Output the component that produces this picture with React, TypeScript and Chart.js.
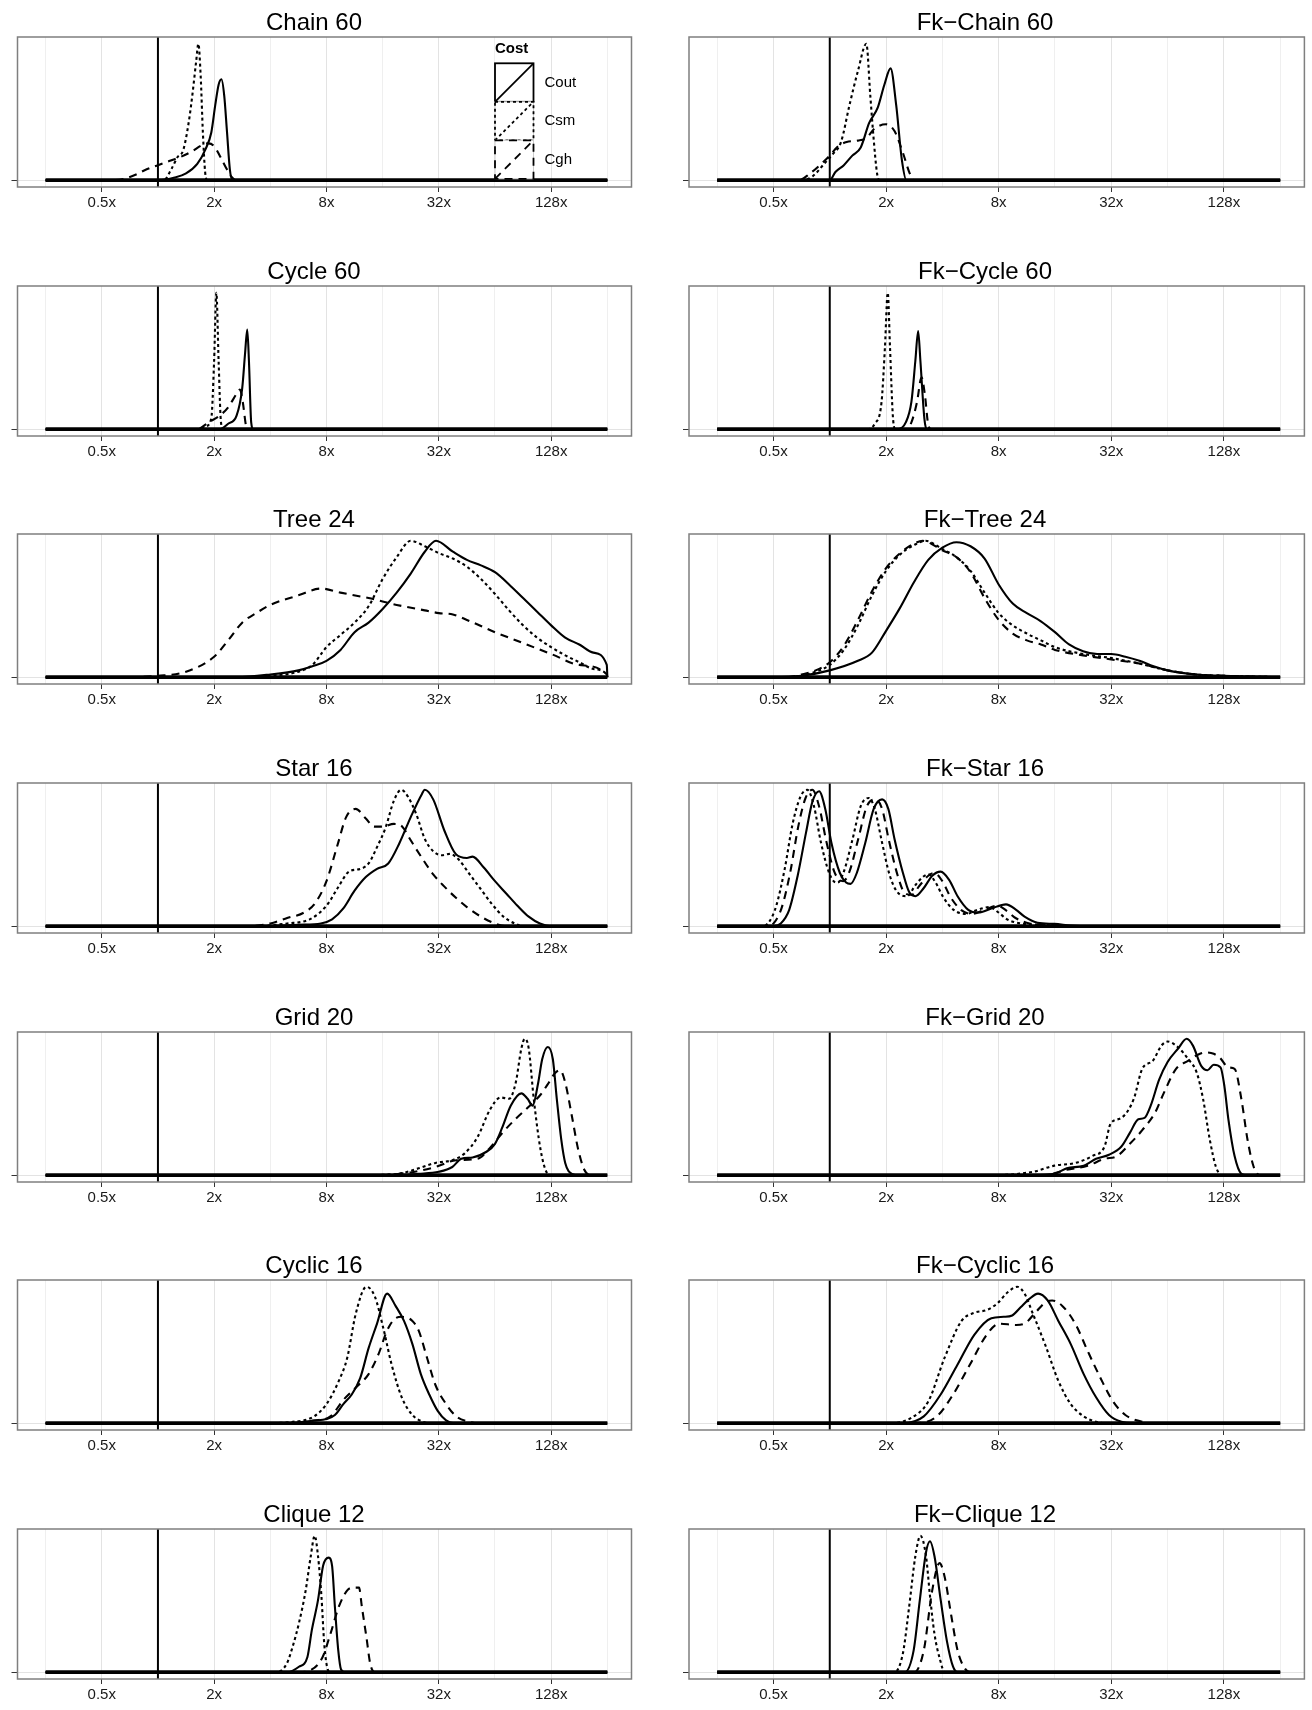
import React, { useEffect, useRef } from 'react';
import { Chart, registerables } from 'chart.js';

Chart.register(...registerables);

type Pt = [number, number];

// ---------- data (x = log2 of cost ratio, y = density scaled to the panel's tallest peak) ----------
const seriesNames = ['Cout', 'Csm', 'Cgh'];
const legendTitle = 'Cost';
const xTickRatios = [0.5, 2, 8, 32, 128];
const xTickLabels = ['0.5x', '2x', '8x', '32x', '128x'];
const gridRatios = [0.25, 0.5, 1, 2, 4, 8, 16, 32, 64, 128, 256];
const densityRange = [-2, 8];
const referenceRatio = 1;

const panelTitles = [
  'Chain 60', 'Fk\u2212Chain 60',
  'Cycle 60', 'Fk\u2212Cycle 60',
  'Tree 24', 'Fk\u2212Tree 24',
  'Star 16', 'Fk\u2212Star 16',
  'Grid 20', 'Fk\u2212Grid 20',
  'Cyclic 16', 'Fk\u2212Cyclic 16',
  'Clique 12', 'Fk\u2212Clique 12',
];

const chain60Cout: Pt[] = [[-2,0],[0,0],[0.3,0.02],[0.5,0.05],[0.7,0.12],[0.85,0.23],[0.95,0.35],[1.02,0.55],[1.08,0.7],[1.13,0.74],[1.18,0.62],[1.23,0.35],[1.28,0.08],[1.33,0],[8,0]];
const chain60Csm: Pt[] = [[-2,0],[0.1,0],[0.25,0.09],[0.35,0.17],[0.45,0.22],[0.55,0.43],[0.62,0.65],[0.68,0.87],[0.72,1],[0.76,0.77],[0.8,0.35],[0.84,0.06],[0.88,0],[8,0]];
const chain60Cgh: Pt[] = [[-2,0],[-0.8,0],[-0.6,0.01],[-0.4,0.04],[-0.2,0.08],[0,0.11],[0.2,0.14],[0.4,0.17],[0.6,0.21],[0.8,0.26],[0.9,0.27],[1,0.25],[1.1,0.18],[1.2,0.1],[1.3,0.03],[1.4,0],[8,0]];

const fkChain60Cout: Pt[] = [[-2,0],[0,0],[0.1,0.06],[0.25,0.11],[0.4,0.18],[0.55,0.24],[0.7,0.42],[0.85,0.53],[0.97,0.7],[1.08,0.82],[1.18,0.55],[1.28,0.15],[1.36,0],[8,0]];
const fkChain60Csm: Pt[] = [[-2,0],[-0.5,0],[-0.3,0.03],[-0.1,0.12],[0.05,0.19],[0.2,0.28],[0.35,0.55],[0.5,0.8],[0.65,1],[0.72,0.62],[0.78,0.3],[0.84,0.05],[0.88,0],[8,0]];
const fkChain60Cgh: Pt[] = [[-2,0],[-0.55,0],[-0.35,0.05],[-0.15,0.12],[0,0.18],[0.15,0.25],[0.3,0.28],[0.5,0.29],[0.65,0.31],[0.8,0.38],[1,0.41],[1.15,0.36],[1.3,0.2],[1.42,0.05],[1.5,0],[8,0]];

const cycle60Cout: Pt[] = [[-2,0],[1.1,0],[1.25,0.04],[1.4,0.1],[1.5,0.3],[1.55,0.55],[1.59,0.73],[1.62,0.5],[1.66,0.05],[1.7,0],[8,0]];
const cycle60Csm: Pt[] = [[-2,0],[0.75,0],[0.85,0.02],[0.95,0.08],[1,0.5],[1.04,1],[1.08,0.5],[1.12,0.06],[1.16,0],[8,0]];
const cycle60Cgh: Pt[] = [[-2,0],[0.7,0],[0.9,0.05],[1.1,0.1],[1.25,0.16],[1.4,0.26],[1.46,0.29],[1.51,0.2],[1.57,0.02],[1.6,0],[8,0]];

const fkCycle60Cout: Pt[] = [[-2,0],[1.2,0],[1.35,0.05],[1.45,0.2],[1.52,0.5],[1.57,0.72],[1.61,0.5],[1.68,0.08],[1.72,0],[8,0]];
const fkCycle60Csm: Pt[] = [[-2,0],[0.65,0],[0.8,0.04],[0.92,0.2],[0.98,0.6],[1.03,1],[1.07,0.6],[1.12,0.1],[1.16,0],[8,0]];
const fkCycle60Cgh: Pt[] = [[-2,0],[1.35,0],[1.45,0.05],[1.55,0.2],[1.63,0.38],[1.69,0.25],[1.75,0.03],[1.8,0],[8,0]];

const tree24Cout: Pt[] = [[-2,0],[1.4,0],[2,0.02],[2.5,0.05],[2.75,0.08],[3,0.12],[3.25,0.2],[3.5,0.33],[3.75,0.4],[4,0.5],[4.25,0.62],[4.5,0.76],[4.75,0.92],[4.95,1],[5.25,0.92],[5.5,0.86],[5.75,0.82],[6,0.77],[6.25,0.68],[6.5,0.58],[6.75,0.48],[7,0.38],[7.25,0.29],[7.5,0.24],[7.75,0.18],[7.99,0.09],[8,0]];
const tree24Csm: Pt[] = [[-2,0],[1.5,0],[2,0.01],[2.5,0.04],[2.75,0.09],[3,0.22],[3.25,0.31],[3.5,0.4],[3.75,0.52],[4,0.72],[4.25,0.88],[4.5,1],[4.75,0.96],[5,0.91],[5.25,0.87],[5.5,0.81],[5.75,0.72],[6,0.61],[6.25,0.49],[6.5,0.38],[6.75,0.29],[7,0.22],[7.25,0.16],[7.5,0.11],[7.75,0.06],[7.99,0.02],[8,0]];
const tree24Cgh: Pt[] = [[-2,0],[-0.5,0],[0,0.01],[0.5,0.04],[1,0.15],[1.25,0.27],[1.5,0.4],[1.75,0.47],[2,0.53],[2.5,0.6],[2.9,0.65],[3.25,0.62],[3.75,0.58],[4.25,0.53],[4.75,0.49],[5,0.47],[5.25,0.46],[5.5,0.42],[6,0.33],[6.5,0.25],[7,0.17],[7.5,0.09],[7.99,0.02],[8,0]];

const fkTree24Cout: Pt[] = [[-2,0],[-1,0],[-0.5,0.01],[0,0.05],[0.5,0.12],[0.75,0.18],[1,0.34],[1.25,0.51],[1.5,0.7],[1.75,0.86],[2,0.95],[2.25,0.99],[2.5,0.96],[2.75,0.87],[3,0.68],[3.25,0.54],[3.5,0.47],[3.75,0.41],[4,0.33],[4.25,0.24],[4.5,0.19],[4.75,0.17],[5,0.17],[5.25,0.15],[5.5,0.12],[5.75,0.08],[6,0.05],[6.5,0.02],[7,0.01],[8,0]];
const fkTree24Csm: Pt[] = [[-2,0],[-0.75,0],[-0.5,0.01],[-0.25,0.04],[0,0.09],[0.25,0.2],[0.5,0.38],[0.75,0.6],[1,0.78],[1.25,0.9],[1.5,0.97],[1.7,1],[2,0.94],[2.25,0.88],[2.5,0.78],[2.75,0.62],[3,0.47],[3.25,0.38],[3.5,0.32],[3.75,0.27],[4,0.22],[4.5,0.17],[5,0.14],[5.5,0.1],[6,0.05],[6.5,0.02],[7,0.01],[8,0]];
const fkTree24Cgh: Pt[] = [[-2,0],[-0.75,0],[-0.5,0.02],[-0.25,0.05],[0,0.11],[0.25,0.23],[0.5,0.42],[0.75,0.63],[1,0.8],[1.25,0.91],[1.5,0.98],[1.65,1],[2,0.93],[2.25,0.88],[2.5,0.77],[2.75,0.58],[3,0.42],[3.25,0.32],[3.5,0.27],[3.75,0.24],[4,0.2],[4.5,0.16],[5,0.13],[5.5,0.1],[6,0.05],[6.5,0.02],[7,0.01],[8,0]];

const star16Cout: Pt[] = [[-2,0],[2,0],[2.5,0.01],[2.9,0.02],[3.1,0.05],[3.3,0.13],[3.5,0.26],[3.7,0.36],[3.9,0.42],[4.1,0.46],[4.3,0.61],[4.5,0.8],[4.7,0.97],[4.75,1],[4.9,0.93],[5.1,0.7],[5.3,0.53],[5.5,0.5],[5.6,0.51],[5.8,0.43],[6,0.33],[6.2,0.24],[6.4,0.15],[6.6,0.07],[6.8,0.02],[7,0],[8,0]];
const star16Csm: Pt[] = [[-2,0],[1.7,0],[2.3,0.02],[2.7,0.05],[3,0.15],[3.2,0.28],[3.4,0.4],[3.6,0.42],[3.75,0.46],[3.9,0.58],[4.05,0.72],[4.2,0.92],[4.33,1],[4.45,0.95],[4.6,0.82],[4.75,0.64],[4.9,0.55],[5.05,0.52],[5.2,0.53],[5.35,0.49],[5.55,0.38],[5.75,0.27],[5.95,0.16],[6.15,0.07],[6.35,0.02],[6.5,0],[8,0]];
const star16Cgh: Pt[] = [[-2,0],[1.6,0],[2,0.02],[2.3,0.06],[2.6,0.1],[2.8,0.17],[3,0.33],[3.2,0.6],[3.35,0.8],[3.52,0.86],[3.7,0.79],[3.85,0.73],[4,0.73],[4.2,0.75],[4.35,0.73],[4.5,0.63],[4.7,0.5],[4.9,0.38],[5.1,0.29],[5.3,0.21],[5.5,0.14],[5.75,0.07],[6,0.02],[6.2,0],[8,0]];

const fkStar16Cout: Pt[] = [[-2,0],[-1,0],[-0.87,0.02],[-0.72,0.12],[-0.57,0.37],[-0.42,0.69],[-0.31,0.91],[-0.19,0.99],[-0.08,0.86],[0.03,0.61],[0.18,0.39],[0.29,0.32],[0.37,0.31],[0.48,0.39],[0.63,0.61],[0.78,0.86],[0.93,0.93],[1.04,0.86],[1.15,0.64],[1.3,0.39],[1.41,0.25],[1.52,0.22],[1.67,0.28],[1.82,0.37],[1.97,0.4],[2.12,0.34],[2.27,0.22],[2.46,0.12],[2.64,0.1],[2.87,0.13],[3.13,0.16],[3.31,0.12],[3.46,0.07],[3.69,0.025],[3.99,0.017],[4.28,0.005],[4.6,0],[8,0]];
const fkStar16Csm: Pt[] = [[-2,0],[-1.2,0],[-1.08,0.03],[-0.95,0.15],[-0.8,0.42],[-0.66,0.75],[-0.52,0.95],[-0.4,1],[-0.28,0.88],[-0.16,0.62],[-0.02,0.4],[0.07,0.33],[0.14,0.32],[0.25,0.4],[0.4,0.63],[0.55,0.88],[0.69,0.94],[0.8,0.86],[0.92,0.63],[1.06,0.38],[1.2,0.25],[1.37,0.22],[1.52,0.3],[1.65,0.36],[1.75,0.38],[1.88,0.32],[2.02,0.21],[2.2,0.12],[2.42,0.09],[2.62,0.12],[2.83,0.14],[3,0.1],[3.15,0.05],[3.4,0.02],[3.8,0.01],[4.2,0],[8,0]];
const fkStar16Cgh: Pt[] = [[-2,0],[-1.1,0],[-0.98,0.03],[-0.85,0.14],[-0.7,0.4],[-0.56,0.73],[-0.43,0.94],[-0.31,1],[-0.19,0.88],[-0.06,0.62],[0.08,0.4],[0.17,0.34],[0.24,0.33],[0.35,0.4],[0.5,0.63],[0.66,0.88],[0.81,0.93],[0.93,0.86],[1.05,0.63],[1.2,0.38],[1.32,0.25],[1.45,0.23],[1.6,0.3],[1.75,0.37],[1.86,0.39],[2,0.33],[2.15,0.21],[2.33,0.12],[2.53,0.09],[2.75,0.12],[2.98,0.15],[3.15,0.11],[3.3,0.06],[3.55,0.02],[3.9,0.01],[4.3,0],[8,0]];

const grid20Cout: Pt[] = [[-2,0],[4.2,0],[4.64,0.01],[5,0.025],[5.24,0.06],[5.4,0.12],[5.6,0.13],[5.84,0.17],[6,0.23],[6.13,0.35],[6.28,0.51],[6.47,0.6],[6.58,0.56],[6.67,0.51],[6.77,0.68],[6.84,0.85],[6.94,0.94],[7.03,0.85],[7.1,0.56],[7.18,0.26],[7.25,0.09],[7.37,0.01],[7.5,0],[8,0]];
const grid20Csm: Pt[] = [[-2,0],[3.5,0],[4.27,0.01],[4.64,0.05],[4.94,0.09],[5.24,0.11],[5.46,0.16],[5.69,0.28],[5.91,0.48],[6.1,0.57],[6.25,0.56],[6.37,0.68],[6.47,0.93],[6.53,1],[6.6,0.93],[6.69,0.56],[6.81,0.19],[6.92,0.02],[7,0],[8,0]];
const grid20Cgh: Pt[] = [[-2,0],[3.9,0],[4.49,0.02],[4.94,0.06],[5.31,0.11],[5.69,0.12],[5.91,0.2],[6.13,0.31],[6.36,0.41],[6.62,0.51],[6.81,0.59],[6.96,0.68],[7.07,0.75],[7.16,0.77],[7.25,0.68],[7.37,0.43],[7.48,0.19],[7.59,0.04],[7.7,0],[8,0]];

const fkGrid20Cout: Pt[] = [[-2,0],[3.6,0],[3.99,0.01],[4.21,0.05],[4.51,0.07],[4.73,0.12],[4.96,0.15],[5.18,0.21],[5.33,0.31],[5.48,0.41],[5.59,0.42],[5.7,0.51],[5.85,0.7],[6,0.83],[6.19,0.93],[6.34,1],[6.45,0.95],[6.6,0.8],[6.71,0.77],[6.82,0.81],[6.94,0.79],[7.01,0.65],[7.08,0.41],[7.19,0.14],[7.31,0.01],[7.4,0],[8,0]];
const fkGrid20Csm: Pt[] = [[-2,0],[2.8,0],[3.61,0.025],[3.99,0.07],[4.36,0.09],[4.66,0.14],[4.88,0.21],[4.99,0.38],[5.18,0.42],[5.4,0.56],[5.55,0.78],[5.74,0.84],[5.89,0.95],[6,0.98],[6.15,0.95],[6.37,0.85],[6.52,0.75],[6.63,0.56],[6.75,0.26],[6.86,0.06],[6.97,0],[8,0]];
const fkGrid20Cgh: Pt[] = [[-2,0],[3.8,0],[4.21,0.04],[4.58,0.07],[4.88,0.12],[5.1,0.14],[5.33,0.23],[5.55,0.33],[5.78,0.46],[5.93,0.6],[6.15,0.78],[6.37,0.84],[6.52,0.88],[6.67,0.9],[6.82,0.89],[6.93,0.86],[7.08,0.79],[7.19,0.78],[7.31,0.56],[7.42,0.26],[7.53,0.06],[7.64,0],[8,0]];

const cyclic16Cout: Pt[] = [[-2,0],[2.3,0],[2.78,0.02],[3,0.03],[3.15,0.06],[3.3,0.14],[3.45,0.21],[3.6,0.33],[3.75,0.55],[3.9,0.73],[4.08,0.95],[4.23,0.86],[4.38,0.75],[4.53,0.58],[4.68,0.36],[4.83,0.21],[4.98,0.09],[5.13,0.02],[5.28,0],[8,0]];
const cyclic16Csm: Pt[] = [[-2,0],[1.8,0],[2.4,0.01],[2.78,0.05],[3,0.14],[3.22,0.31],[3.37,0.48],[3.52,0.8],[3.71,1],[3.86,0.93],[4.01,0.7],[4.16,0.43],[4.34,0.19],[4.53,0.06],[4.72,0.01],[4.87,0],[8,0]];
const cyclic16Cgh: Pt[] = [[-2,0],[2.3,0],[2.78,0.02],[3.07,0.05],[3.3,0.17],[3.52,0.26],[3.75,0.36],[3.93,0.51],[4.08,0.68],[4.23,0.77],[4.34,0.78],[4.53,0.75],[4.64,0.68],[4.79,0.48],[4.94,0.28],[5.13,0.14],[5.31,0.05],[5.54,0.01],[5.7,0],[8,0]];

const fkCyclic16Cout: Pt[] = [[-2,0],[1.3,0],[1.67,0.05],[1.97,0.21],[2.27,0.43],[2.57,0.65],[2.87,0.77],[3.09,0.78],[3.24,0.79],[3.39,0.85],[3.54,0.91],[3.7,0.95],[3.87,0.9],[4.06,0.75],[4.28,0.58],[4.51,0.36],[4.73,0.19],[4.96,0.06],[5.18,0.01],[5.4,0],[8,0]];
const fkCyclic16Csm: Pt[] = [[-2,0],[1.1,0],[1.45,0.04],[1.75,0.16],[2.04,0.48],[2.34,0.75],[2.57,0.81],[2.79,0.83],[2.98,0.88],[3.16,0.96],[3.33,1],[3.46,0.95],[3.61,0.8],[3.84,0.56],[4.06,0.31],[4.28,0.14],[4.51,0.05],[4.73,0.01],[4.9,0],[8,0]];
const fkCyclic16Cgh: Pt[] = [[-2,0],[1.5,0],[1.9,0.05],[2.19,0.21],[2.49,0.43],[2.79,0.65],[3.01,0.73],[3.31,0.72],[3.46,0.73],[3.65,0.81],[3.84,0.89],[3.95,0.9],[4.13,0.86],[4.36,0.73],[4.58,0.53],[4.81,0.33],[5.03,0.16],[5.25,0.06],[5.55,0.01],[5.7,0],[8,0]];

const clique12Cout: Pt[] = [[-2,0],[2.3,0],[2.51,0.04],[2.66,0.11],[2.74,0.31],[2.85,0.53],[2.94,0.78],[3.04,0.84],[3.1,0.78],[3.15,0.48],[3.21,0.16],[3.26,0.02],[3.34,0],[8,0]];
const clique12Csm: Pt[] = [[-2,0],[2.1,0],[2.29,0.06],[2.4,0.19],[2.51,0.36],[2.63,0.6],[2.72,0.85],[2.79,1],[2.85,0.85],[2.91,0.56],[2.96,0.21],[3.01,0.04],[3.07,0],[8,0]];
const clique12Cgh: Pt[] = [[-2,0],[2.5,0],[2.74,0.02],[2.93,0.11],[3.07,0.28],[3.22,0.48],[3.37,0.6],[3.49,0.62],[3.58,0.62],[3.63,0.48],[3.71,0.26],[3.78,0.06],[3.86,0],[8,0]];

const fkClique12Cout: Pt[] = [[-2,0],[1.33,0],[1.49,0.16],[1.6,0.53],[1.71,0.88],[1.78,0.96],[1.86,0.85],[1.97,0.53],[2.08,0.23],[2.19,0.04],[2.27,0],[8,0]];
const fkClique12Csm: Pt[] = [[-2,0],[1.15,0],[1.3,0.14],[1.41,0.48],[1.52,0.85],[1.61,1],[1.71,0.85],[1.78,0.56],[1.86,0.28],[1.96,0.09],[2.04,0],[8,0]];
const fkClique12Cgh: Pt[] = [[-2,0],[1.5,0],[1.67,0.16],[1.82,0.6],[1.95,0.8],[2.04,0.7],[2.16,0.41],[2.27,0.16],[2.38,0.04],[2.49,0],[8,0]];

const panelSeries: Pt[][][] = [
  [chain60Cout, chain60Csm, chain60Cgh],
  [fkChain60Cout, fkChain60Csm, fkChain60Cgh],
  [cycle60Cout, cycle60Csm, cycle60Cgh],
  [fkCycle60Cout, fkCycle60Csm, fkCycle60Cgh],
  [tree24Cout, tree24Csm, tree24Cgh],
  [fkTree24Cout, fkTree24Csm, fkTree24Cgh],
  [star16Cout, star16Csm, star16Cgh],
  [fkStar16Cout, fkStar16Csm, fkStar16Cgh],
  [grid20Cout, grid20Csm, grid20Cgh],
  [fkGrid20Cout, fkGrid20Csm, fkGrid20Cgh],
  [cyclic16Cout, cyclic16Csm, cyclic16Cgh],
  [fkCyclic16Cout, fkCyclic16Csm, fkCyclic16Cgh],
  [clique12Cout, clique12Csm, clique12Cgh],
  [fkClique12Cout, fkClique12Csm, fkClique12Cgh],
];

// ---------- styling / layout ----------
const FONT = '"Liberation Sans", Arial, Helvetica, sans-serif';
const lineDashes: number[][] = [[], [3, 3], [8, 6]];
const CANVAS_W = 656;
const TITLE_SPACE = 36;
const BOX_H = 150;
const AXIS_H = 30;
const CANVAS_H = TITLE_SPACE + BOX_H + AXIS_H;
const FIRST_BOX_TOP = 37;
const ROW_PITCH = 248.66;
const Y_AXIS_W = [17.5, 33];
const PAD_RIGHT = [24.5, 7.6];
const TITLE_X = [314, 329];
const X_MIN = -2.5;
const X_MAX = 8.43;

const tickValues = xTickRatios.map((r) => Math.log2(r));
const gridValues = gridRatios.map((r) => Math.log2(r));

function Panel({ index }: { index: number }) {
  const ref = useRef<HTMLCanvasElement>(null);
  const row = Math.floor(index / 2);
  const col = index % 2;
  const boxTop = Math.round(FIRST_BOX_TOP + row * ROW_PITCH);
  const canvasTop = boxTop - TITLE_SPACE;
  const canvasLeft = col * CANVAS_W;

  useEffect(() => {
    const canvas = ref.current;
    if (!canvas) return;
    const series = panelSeries[index];
    const title = panelTitles[index];

    const decor = {
      id: 'panelDecor',
      afterDatasetsDraw(chart: any) {
        const { ctx, chartArea: a, scales } = chart;
        const xs = scales.x;
        const ys = scales.y;
        ctx.save();
        // density baseline over the estimated range
        const y0 = ys.getPixelForValue(0);
        ctx.setLineDash([]);
        ctx.strokeStyle = '#000';
        ctx.lineWidth = 3.8;
        ctx.beginPath();
        ctx.moveTo(xs.getPixelForValue(densityRange[0]), y0);
        ctx.lineTo(xs.getPixelForValue(densityRange[1]), y0);
        ctx.stroke();
        // reference line at 1x
        const xr = xs.getPixelForValue(Math.log2(referenceRatio));
        ctx.lineWidth = 2;
        ctx.beginPath();
        ctx.moveTo(xr, a.top);
        ctx.lineTo(xr, a.bottom);
        ctx.stroke();
        // panel border
        ctx.strokeStyle = '#7f7f7f';
        ctx.lineWidth = 1.5;
        ctx.strokeRect(a.left, a.top, a.right - a.left, a.bottom - a.top);
        // title
        ctx.fillStyle = '#000';
        ctx.font = `24px ${FONT}`;
        ctx.textAlign = 'center';
        ctx.textBaseline = 'middle';
        ctx.fillText(title, TITLE_X[col], a.top - 14);
        // legend (first panel only)
        if (index === 0) {
          const kx = 495;
          const ks = 38.5;
          const ky0 = a.top + 26.3;
          ctx.textAlign = 'left';
          ctx.font = `bold 15px ${FONT}`;
          ctx.fillText(legendTitle, kx, a.top + 12);
          seriesNames.forEach((name, k) => {
            const top = ky0 + k * ks;
            ctx.setLineDash([]);
            ctx.fillStyle = '#fff';
            ctx.fillRect(kx, top, ks, ks);
            ctx.strokeStyle = '#cccccc';
            ctx.lineWidth = 1;
            ctx.strokeRect(kx, top, ks, ks);
            ctx.setLineDash(lineDashes[k]);
            ctx.strokeStyle = '#000';
            ctx.lineWidth = 1.8;
            ctx.strokeRect(kx, top, ks, ks);
            ctx.beginPath();
            ctx.moveTo(kx, top + ks);
            ctx.lineTo(kx + ks, top);
            ctx.stroke();
            ctx.setLineDash([]);
            ctx.fillStyle = '#000';
            ctx.font = `15px ${FONT}`;
            ctx.fillText(name, kx + ks + 11, top + ks / 2);
          });
        }
        ctx.restore();
      },
    };

    const chart = new Chart(canvas, {
      type: 'line',
      data: {
        datasets: series.map((pts, k) => ({
          label: seriesNames[k],
          data: pts.map(([x, y]) => ({ x, y })),
          borderColor: '#000',
          borderWidth: 2.1,
          borderDash: lineDashes[k],
          pointRadius: 0,
          fill: false,
          cubicInterpolationMode: 'monotone' as const,
        })),
      },
      options: {
        animation: false,
        responsive: false,
        maintainAspectRatio: false,
        events: [],
        layout: { padding: { left: 0, right: PAD_RIGHT[col], top: TITLE_SPACE, bottom: 0 } },
        plugins: { legend: { display: false }, tooltip: { enabled: false }, title: { display: false } },
        scales: {
          x: {
            type: 'linear',
            min: X_MIN,
            max: X_MAX,
            afterBuildTicks: (s: any) => {
              s.ticks = gridValues.map((v) => ({ value: v }));
            },
            afterFit: (s: any) => {
              s.height = AXIS_H;
            },
            border: { display: false },
            grid: {
              color: (c: any) => (tickValues.includes(c.tick?.value) ? '#e3e3e3' : '#efefef'),
              lineWidth: 1,
              drawTicks: true,
              tickLength: 5,
              tickColor: (c: any) => (tickValues.includes(c.tick?.value) ? '#333333' : 'rgba(0,0,0,0)'),
            },
            ticks: {
              autoSkip: false,
              maxRotation: 0,
              padding: 2,
              color: '#1a1a1a',
              font: { family: FONT, size: 15 },
              callback: (v: any) => {
                const i = tickValues.indexOf(Number(v));
                return i >= 0 ? xTickLabels[i] : '';
              },
            },
          },
          y: {
            type: 'linear',
            min: -0.05,
            max: 1.05,
            afterBuildTicks: (s: any) => {
              s.ticks = [{ value: 0 }];
            },
            afterFit: (s: any) => {
              s.width = Y_AXIS_W[col];
            },
            border: { display: false },
            grid: { color: '#e3e3e3', lineWidth: 1, drawTicks: true, tickLength: 6, tickColor: '#333333' },
            ticks: { callback: () => '', font: { family: FONT, size: 15 } },
          },
        },
      },
      plugins: [decor],
    });
    return () => chart.destroy();
  }, [index]);

  return (
    <canvas
      ref={ref}
      width={CANVAS_W}
      height={CANVAS_H}
      style={{ position: 'absolute', left: canvasLeft, top: canvasTop, width: CANVAS_W, height: CANVAS_H }}
    />
  );
}

export default function App() {
  return (
    <div style={{ position: 'absolute', left: 0, top: 0, width: 1312, height: 1710, background: '#fff' }}>
      {panelTitles.map((_, i) => (
        <Panel key={i} index={i} />
      ))}
    </div>
  );
}
